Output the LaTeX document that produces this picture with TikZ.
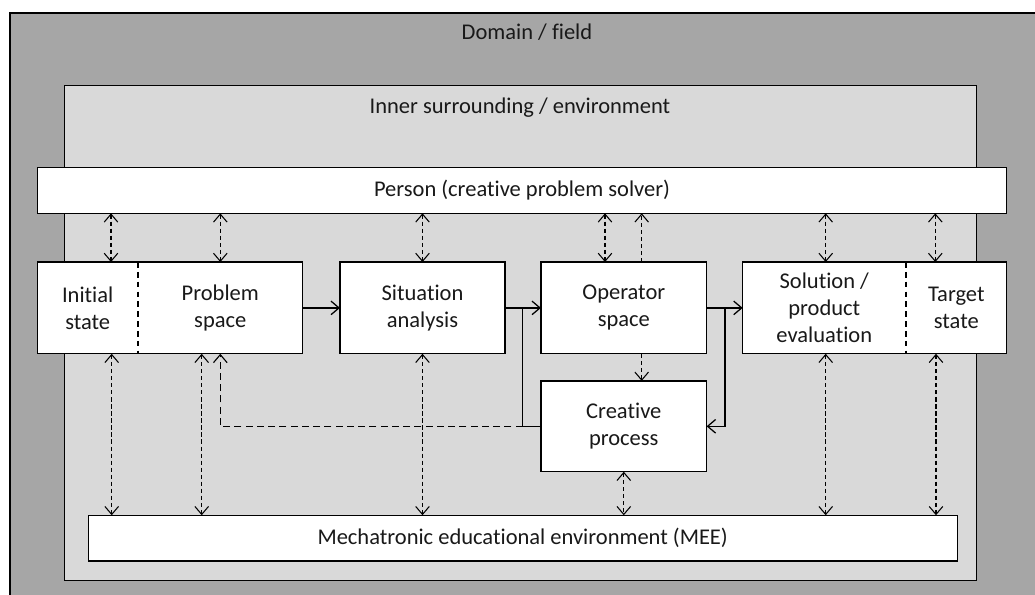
\documentclass[tikz,border=0pt]{standalone}
\usepackage{fontspec}
\setmainfont{Carlito}[Ligatures=CommonOff]
\usetikzlibrary{arrows.meta}

\definecolor{domaingray}{HTML}{A6A6A6}
\definecolor{innergray}{HTML}{D9D9D9}

\tikzset{
  txt/.style={align=center, text=black!90, font=\fontsize{16}{19.2}\selectfont},
  box/.style={txt, draw, fill=white, line width=0.9pt, inner sep=0pt, outer sep=0pt},
  flow/.style={line width=0.9pt, -{Straight Barb[length=2mm,width=3.4mm]}},
  link/.style={densely dashed, line width=0.75pt,
    {Straight Barb[length=2mm,width=3.4mm]}-{Straight Barb[length=2mm,width=3.4mm]}},
  oneway/.style={densely dashed, line width=0.75pt, -{Straight Barb[length=2mm,width=3.4mm]}},
  feedback/.style={dash pattern=on 5pt off 3pt, line width=0.8pt, -{Straight Barb[length=2mm,width=3.4mm]}},
  divider/.style={dash pattern=on 4pt off 3pt, line width=0.8pt},
}

\begin{document}
\begin{tikzpicture}[x=0.025cm, y=-0.025cm]
    \useasboundingbox (0,0) rectangle (1035,594);
    \clip (0,0) rectangle (1035,594);

    % domain and inner surrounding
    \filldraw[fill=domaingray, line width=0.9pt] (10,13) rectangle (1060,620);
    \filldraw[fill=innergray, line width=0.9pt] (64.7,85.7) rectangle (976.3,580.3);
    \node[txt, anchor=base] (domain) at (527,39.3) {Domain / field};
    \node[txt, anchor=base] (inner) at (520,113.3) {Inner surrounding / environment};

    \node[box, minimum width=24.235cm, minimum height=1.14cm] (person) at (522,190.5) {Person (creative problem solver)};

    % initial state / problem space
    \node[box, minimum width=6.635cm, minimum height=2.2925cm] (ips) at (170,307.9) {};
    \node[txt] (initial) at (87.7,307.9) {Initial\\state};
    \node[txt] (problem) at (220.3,307.9) {Problem\\space};
    \draw[divider] (138,0 |- ips.north) -- (138,0 |- ips.south);

    \node[box, minimum width=4.125cm, minimum height=2.2925cm] (situation) at (422.5,307.9) {Situation\\analysis};
    \node[box, minimum width=4.14cm, minimum height=2.2925cm] (operator) at (623.8,307.9) {Operator\\space};
    \node[box, minimum width=4.14cm, minimum height=2.27cm] (creative) at (623.8,426.3) {Creative\\process};

    % solution / target state
    \node[box, minimum width=6.6cm, minimum height=2.2925cm] (sps) at (874.7,307.9) {};
    \node[txt] (solution) at (824.3,307.9) {Solution /\\product\\evaluation};
    \node[txt] (target) at (956.3,307.9) {Target\\state};
    \draw[divider] (906,0 |- sps.north) -- (906,0 |- sps.south);

    \node[box, minimum width=21.72cm, minimum height=1.1425cm] (mee) at (522.7,538.1) {Mechatronic educational environment (MEE)};

    % main flow
    \draw[flow] (ips.east) -- (situation.west);
    \draw[flow] (situation.east) -- (operator.west);
    \draw[flow] (operator.east) -- (sps.west);

    \coordinate (merge) at (522.7,0 |- creative.west);
    \coordinate (split) at (725,0 |- operator.east);
    \draw[line width=0.9pt] (creative.west) -- (merge) -- (merge |- situation.east);
    \draw[flow] (split) |- (creative.east);
    \draw[feedback] (merge) -| (problem |- ips.south);

    % person <-> steps
    \draw[link] (111,0 |- person.south) -- (111,0 |- ips.north);
    \draw[link] (problem |- person.south) -- (problem |- ips.north);
    \draw[link] (situation |- person.south) -- (situation.north);
    \draw[link] (605,0 |- person.south) -- (605,0 |- operator.north);
    \draw[oneway] (641.7,0 |- operator.north) -- (641.7,0 |- person.south);
    \draw[oneway] (641.7,0 |- operator.south) -- (641.7,0 |- creative.north);
    \draw[link] (825.7,0 |- person.south) -- (825.7,0 |- sps.north);
    \draw[link] (935.3,0 |- person.south) -- (935.3,0 |- sps.north);

    % steps <-> MEE
    \draw[link] (111.7,0 |- ips.south) -- (111.7,0 |- mee.north);
    \draw[link] (201.7,0 |- ips.south) -- (201.7,0 |- mee.north);
    \draw[link] (situation.south) -- (situation |- mee.north);
    \draw[link] (creative.south) -- (creative |- mee.north);
    \draw[link] (825.7,0 |- sps.south) -- (825.7,0 |- mee.north);
    \draw[link] (936,0 |- sps.south) -- (936,0 |- mee.north);

\end{tikzpicture}
\end{document}
